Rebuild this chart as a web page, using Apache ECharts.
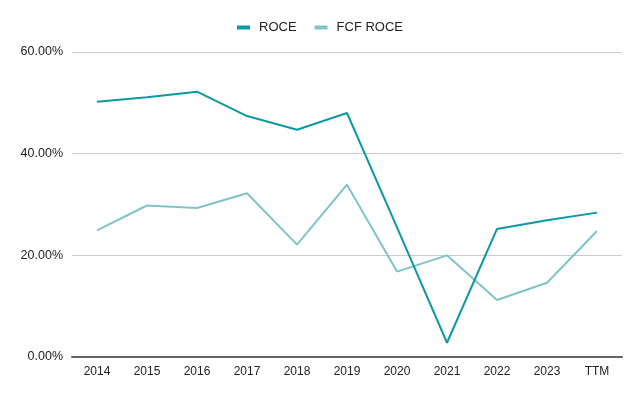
<!DOCTYPE html>
<html>
<head>
<meta charset="utf-8">
<script src="https://cdn.jsdelivr.net/npm/echarts@6/dist/echarts.min.js"></script>
<style>
  html, body { margin: 0; padding: 0; background: #fff; }
  #chart { width: 640px; height: 396px; }
</style>
</head>
<body>
<div id="chart"></div>
<script>
const years = ['2014', '2015', '2016', '2017', '2018', '2019', '2020', '2021', '2022', '2023', 'TTM'];
const roce = [50.2, 51.1, 52.2, 47.4, 44.7, 48.0, 25.5, 2.8, 25.2, 26.9, 28.4];
const fcfRoce = [24.9, 29.8, 29.3, 32.2, 22.1, 33.9, 16.8, 20.0, 11.2, 14.6, 24.8];

const chart = echarts.init(document.getElementById('chart'));

const font = 'Liberation Sans, Arial, sans-serif';

const option = {
  animation: false,
  textStyle: { fontFamily: font },
  legend: {
    top: 16,
    left: 'center',
    icon: 'rect',
    itemWidth: 13,
    itemHeight: 4,
    itemGap: 18,
    textStyle: { color: '#222', fontSize: 13, fontFamily: font, padding: [0, 0, 0, 4] },
    data: ['ROCE', 'FCF ROCE'],
  },
  grid: { left: 72, right: 18, top: 52, bottom: 39 },
  xAxis: {
    type: 'category',
    data: years,
    boundaryGap: true,
    axisLine: { lineStyle: { color: '#666', width: 2 } },
    axisTick: { show: false },
    axisLabel: { color: '#222', fontSize: 12, margin: 9, fontFamily: font },
  },
  yAxis: {
    type: 'value',
    min: 0,
    max: 60,
    interval: 20,
    axisLabel: {
      color: '#222',
      fontSize: 12.5,
      margin: 9,
      fontFamily: font,
      formatter: (v) => v.toFixed(2) + '%',
    },
    splitLine: { lineStyle: { color: '#ccc', width: 1 } },
    axisLine: { show: false },
    axisTick: { show: false },
  },
  series: [
    {
      name: 'ROCE',
      type: 'line',
      data: roce,
      symbol: 'none',
      lineStyle: { color: '#0b9aa0', width: 2 },
      itemStyle: { color: '#0b9aa0' },
      z: 3,
    },
    {
      name: 'FCF ROCE',
      type: 'line',
      data: fcfRoce,
      symbol: 'none',
      lineStyle: { color: '#82c3c6', width: 2 },
      itemStyle: { color: '#82c3c6' },
      z: 2,
    },
  ],
};

chart.setOption(option);
</script>
</body>
</html>
